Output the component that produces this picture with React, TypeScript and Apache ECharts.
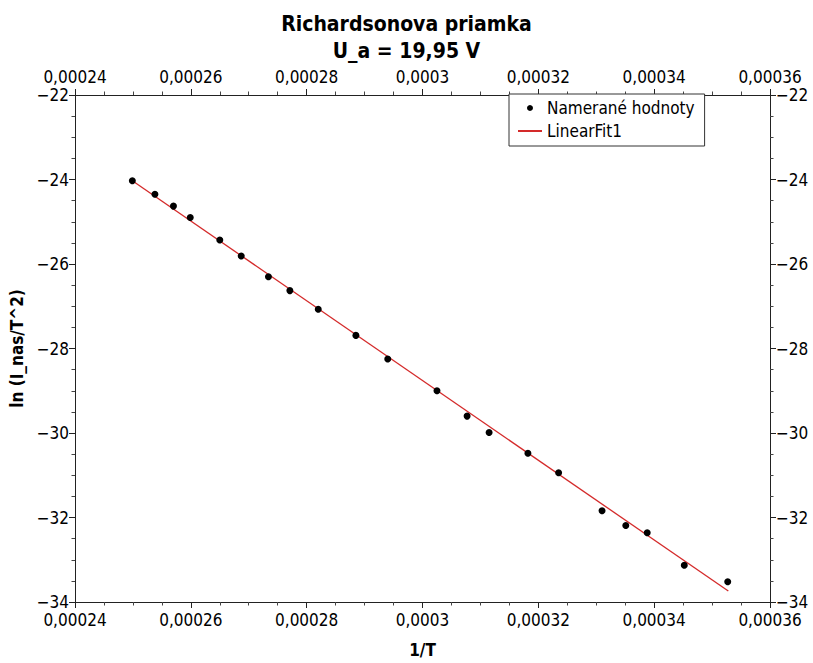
import React, { useEffect, useRef } from "react";
import * as echarts from "echarts";

const titleLines = ["Richardsonova priamka", "U_a = 19,95 V"];
const xAxisName = "1/T";
const yAxisName = "ln (I_nas/T^2)";
const scatterName = "Namerané hodnoty";
const fitName = "LinearFit1";

const xValues = [
  0.0002499, 0.0002538, 0.000257, 0.0002599, 0.000265, 0.0002687, 0.0002734,
  0.0002771, 0.000282, 0.0002885, 0.000294, 0.0003025, 0.0003077, 0.0003115,
  0.0003182, 0.0003235, 0.000331, 0.0003351, 0.0003388, 0.0003452, 0.0003527,
];
const yValues = [
  -24.03, -24.35, -24.63, -24.9, -25.43, -25.81, -26.3, -26.63, -27.07, -27.69,
  -28.25, -29.0, -29.6, -29.99, -30.48, -30.94, -31.84, -32.19, -32.36, -33.13,
  -33.52,
];
const fitX = [0.0002499, 0.0003528];
const fitY = [-24.03, -33.74];

const xMin = 0.00024;
const xMax = 0.00036;
const xStep = 0.00002;
const yMin = -34;
const yMax = -22;
const yStep = 2;

const FONT = "'DejaVu Sans Condensed', 'DejaVu Sans', sans-serif";

const fmtX = (v: number) => String(Number(v.toFixed(8))).replace(".", ",");
const fmtY = (v: number) => String(Number(v.toFixed(4))).replace("-", "\u2212");

export default function App() {
  const ref = useRef<HTMLDivElement>(null);
  useEffect(() => {
    if (!ref.current) return;
    const chart = echarts.init(ref.current, undefined, { renderer: "svg" });
    const axisLine = { show: true, lineStyle: { color: "#222", width: 1 } };
    const tick = { show: true, inside: false, length: 6, lineStyle: { color: "#222" } };
    const minorTick = { show: true, splitNumber: 4, length: 3.5, lineStyle: { color: "#444" } };
    const label = { color: "#000", fontSize: 17, fontFamily: FONT };
    const xCommon = {
      type: "value" as const,
      min: xMin,
      max: xMax,
      interval: xStep,
      axisLine,
      axisTick: tick,
      minorTick,
      splitLine: { show: false },
      minorSplitLine: { show: false },
    };
    const yCommon = {
      type: "value" as const,
      min: yMin,
      max: yMax,
      interval: yStep,
      axisLine,
      axisTick: tick,
      minorTick,
      splitLine: { show: false },
      minorSplitLine: { show: false },
    };
    chart.setOption({
      animation: false,
      backgroundColor: "#fff",
      title: {
        text: titleLines.join("\n"),
        left: "center",
        top: 5,
        textStyle: {
          fontFamily: FONT,
          fontSize: 21,
          fontWeight: "bold",
          color: "#000",
          lineHeight: 27,
        },
      },
      grid: { left: 75, right: 43, top: 95, bottom: 53 },
      legend: {
        orient: "vertical",
        left: 509,
        top: 94,
        padding: [4, 10, 5, 8],
        itemWidth: 24,
        itemHeight: 6,
        itemGap: 3,
        itemTextGap: 7,
        borderColor: "#333",
        borderWidth: 1,
        backgroundColor: "#fff",
        textStyle: { fontFamily: FONT, fontSize: 17, color: "#000", lineHeight: 20 },
        data: [
          { name: scatterName, icon: "circle", itemStyle: { color: "#000", opacity: 1 } },
          { name: fitName, itemStyle: { opacity: 0 } },
        ],
      },
      xAxis: [
        {
          ...xCommon,
          position: "bottom",
          name: xAxisName,
          nameLocation: "middle",
          nameGap: 39,
          nameTextStyle: { fontFamily: FONT, fontSize: 17, fontWeight: "bold", color: "#000" },
          axisLabel: { ...label, margin: 9, formatter: fmtX },
        },
        {
          ...xCommon,
          position: "top",
          axisLabel: { ...label, margin: 10, formatter: fmtX },
        },
      ],
      yAxis: [
        {
          ...yCommon,
          position: "left",
          name: yAxisName,
          nameLocation: "middle",
          nameGap: 38,
          nameTextStyle: { fontFamily: FONT, fontSize: 17, fontWeight: "bold", color: "#000" },
          axisLabel: { ...label, margin: 6, formatter: fmtY },
        },
        {
          ...yCommon,
          position: "right",
          axisLabel: { ...label, margin: 6, formatter: fmtY },
        },
      ],
      series: [
        {
          name: scatterName,
          type: "scatter",
          xAxisIndex: 0,
          yAxisIndex: 0,
          symbol: "circle",
          symbolSize: 7,
          itemStyle: { color: "#000", opacity: 1 },
          data: xValues.map((x, i) => [x, yValues[i]]),
          z: 3,
        },
        {
          name: fitName,
          type: "line",
          xAxisIndex: 0,
          yAxisIndex: 0,
          symbol: "none",
          lineStyle: { color: "#d42a2a", width: 1.3 },
          itemStyle: { color: "#d42a2a" },
          data: fitX.map((x, i) => [x, fitY[i]]),
          z: 2,
        },
      ],
    });
    return () => chart.dispose();
  }, []);
  return (
    <div
      ref={ref}
      style={{ position: "absolute", left: 0, top: 0, width: 813, height: 663 }}
    />
  );
}
